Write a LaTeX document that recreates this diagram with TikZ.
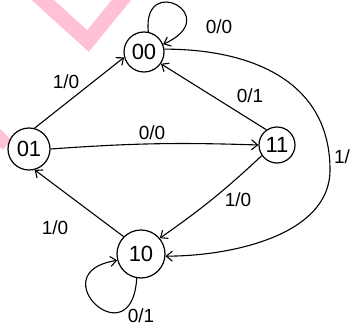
\documentclass[tikz,border=0pt]{standalone}
\usepackage{fontspec}
\setmainfont{Liberation Sans}
\usetikzlibrary{arrows.meta,positioning,calc}
\definecolor{wmpink}{RGB}{255,192,216}
\tikzset{
  state/.style={draw,circle,line width=1.2pt,inner sep=0pt,font=\fontsize{22}{22}\selectfont},
  edge/.style={line width=1.1pt,-{Straight Barb[length=6pt,width=10pt]}},
  lbl/.style={font=\fontsize{19}{19}\selectfont,inner sep=1pt}
}
\begin{document}
\begin{tikzpicture}[x=1pt,y=-1pt]
\useasboundingbox (0,0) rectangle (355,331);
% watermark
\draw[wmpink,line width=15pt,line join=miter] (34,-8) -- (88,41) -- (128,-8);
\draw[wmpink,line width=13pt] (-7,131) -- (7,145);
% states
\node[state,minimum size=40pt] (s00) at (144,52) {00};
\node[state,minimum size=42pt] (s01) at (29,149) {01};
\node[state,minimum size=36pt] (s11) at (277,145) {11};
\node[state,minimum size=48pt] (s10) at (141,254) {10};
% transitions
\draw[edge] (s01.75) -- (s00.195);
\draw[edge] (s01.east) to[bend left=3] (s11.west);
\draw[edge] (s11.125) -- (s00.-35);
\draw[edge] (s11.215) to[bend left=4] (s10.40);
\draw[edge] (s10.135) -- (s01.-75);
\coordinate (arcR) at (330,170);
\draw[edge] (s00.8) to[out=0,in=90,looseness=1.1] (arcR) to[out=-90,in=0,looseness=0.9] (s10.-5);
% self loops
\draw[edge] (s00.78) .. controls +(-6,-60) and +(62,-28) .. (s00.22);
\draw[edge] (s10.-100) .. controls +(-5,82) and +(-78,12) .. (s10.195);
% labels
\node[lbl] (l00a) at (219,27) {0/0};
\node[lbl] (l01a) at (66,82) {1/0};
\node[lbl] (l11a) at (250,96) {0/1};
\node[lbl] (l01b) at (152,133) {0/0};
\node[lbl] (l11b) at (238,200) {1/0};
\node[lbl] (l10a) at (55,228) {1/0};
\node[lbl] (l00b) at (342,157) {1/};
\node[lbl] (l10b) at (141,316) {0/1};
\end{tikzpicture}
\end{document}
